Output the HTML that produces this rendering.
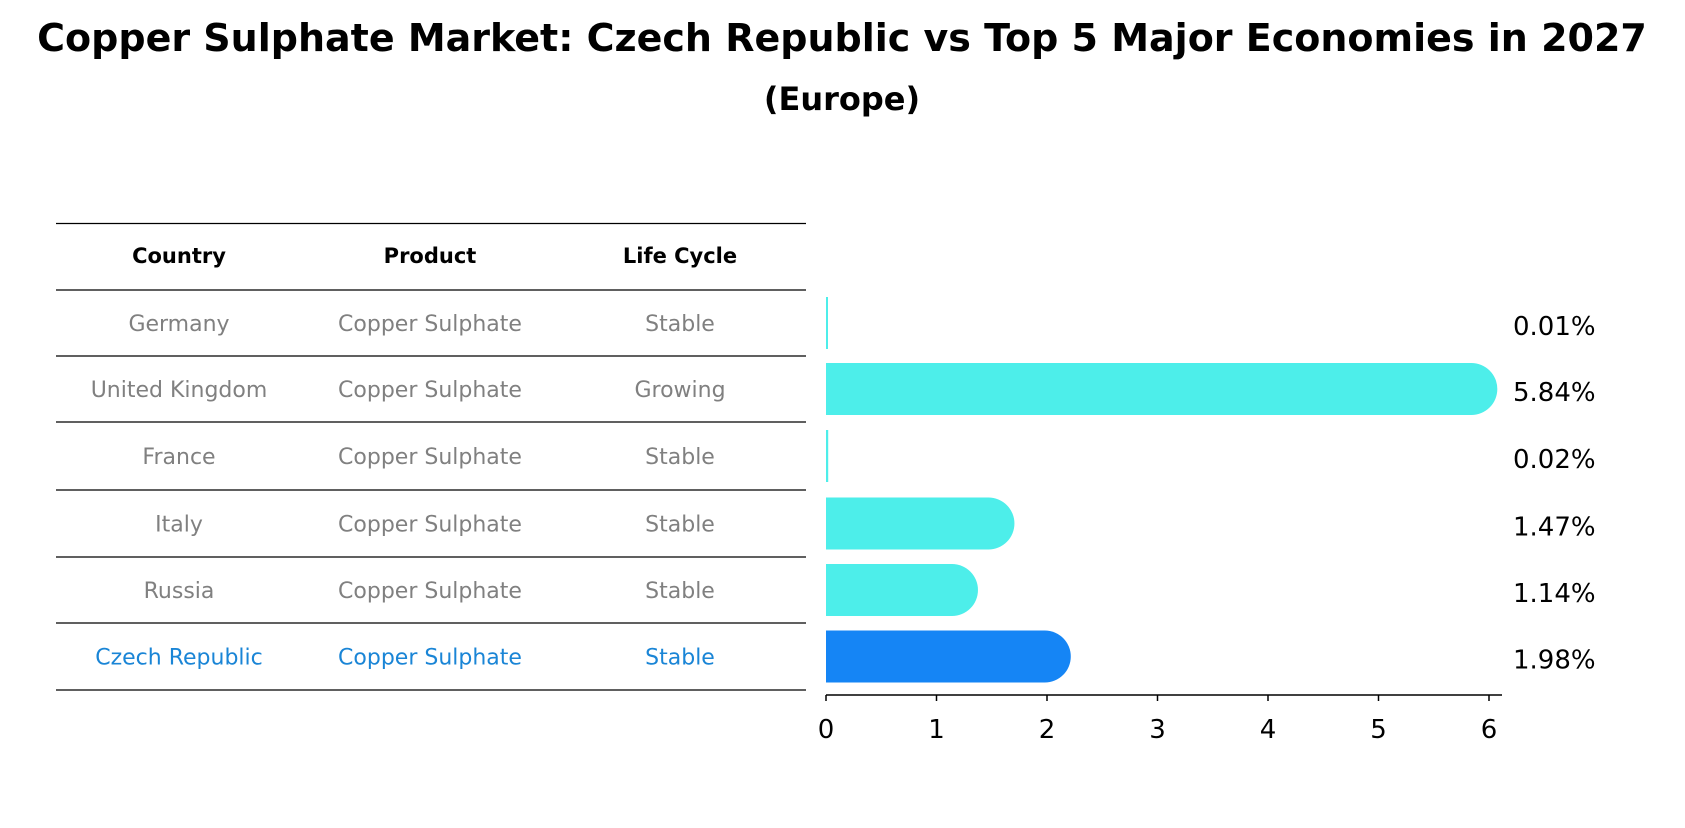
<!DOCTYPE html>
<html><head><meta charset="utf-8"><style>
body{margin:0;background:#fff;font-family:"Liberation Sans","DejaVu Sans",sans-serif}
svg text{font-family:"DejaVu Sans","Liberation Sans",sans-serif}
</style></head><body>
<svg width="1685" height="823" xmlns="http://www.w3.org/2000/svg">
<text x="842" y="51" text-anchor="middle" font-size="38" font-weight="bold">Copper Sulphate Market: Czech Republic vs Top 5 Major Economies in 2027</text>
<text x="842" y="110" text-anchor="middle" font-size="32" font-weight="bold">(Europe)</text>
<g id="table"></g>
<g id="bars"></g>
</svg>
<script>
const countries=["Germany","United Kingdom","France","Italy","Russia","Czech Republic"];
const products=["Copper Sulphate","Copper Sulphate","Copper Sulphate","Copper Sulphate","Copper Sulphate","Copper Sulphate"];
const lifecycle=["Stable","Growing","Stable","Stable","Stable","Stable"];
const values=[0.01,5.84,0.02,1.47,1.14,1.98];
const ticks=[0,1,2,3,4,5,6];
const NS="http://www.w3.org/2000/svg";
function mk(t,a,p){const e=document.createElementNS(NS,t);for(const k in a)e.setAttribute(k,a[k]);p.appendChild(e);return e;}
const tbl=document.getElementById('table'),bars=document.getElementById('bars');
const lines=[223.5,290,356,422,490,557,623,690];
const colX=[179,430,680];
function rowY(i){return (lines[i+1]+lines[i+2])/2;}
lines.forEach((y,i)=>{const l=mk('line',{x1:56,x2:806,y1:y,y2:y,stroke:'#000','stroke-width':1.2},tbl);

});
["Country","Product","Life Cycle"].forEach((h,j)=>{const t=mk('text',{x:colX[j],y:263,'text-anchor':'middle','font-size':21,'font-weight':'bold'},tbl);t.textContent=h;

});
countries.forEach((c,i)=>{const hl=i===countries.length-1;const col=hl?'#1a85d6':'#808080';
[c,products[i],lifecycle[i]].forEach((v,j)=>{const t=mk('text',{x:colX[j],y:rowY(i)+8,'text-anchor':'middle','font-size':22,fill:col},tbl);t.textContent=v;

});});
const x0=826,unit=110.5,bh=52,r=26;
function sx(v){return x0+v*unit;}
values.forEach((v,i)=>{const cy=rowY(i);const hl=i===values.length-1;const col=hl?'#1585F5':'#4DEEEA';
const w=sx(v)-x0;let p;
if(v<0.1){p=mk('rect',{x:x0,y:cy-bh/2,width:Math.max(w,2),height:bh,fill:col},bars);}
else{p=mk('path',{d:`M${x0},${cy-bh/2} H${sx(v)} A${r},${r} 0 0 1 ${sx(v)},${cy+bh/2} H${x0} Z`,fill:col},bars);}


const t=mk('text',{x:1513,y:cy+12,'font-size':26},bars);t.textContent=v.toFixed(2)+'%';

});
const ax=mk('line',{x1:826,x2:1502,y1:695,y2:695,stroke:'#000','stroke-width':1.5},bars);


ticks.forEach(tv=>{const tk=mk('line',{x1:sx(tv),x2:sx(tv),y1:695,y2:701,stroke:'#000','stroke-width':1.5},bars);


const t=mk('text',{x:sx(tv),y:738,'text-anchor':'middle','font-size':26},bars);t.textContent=tv;

});
</script>
</body></html>
